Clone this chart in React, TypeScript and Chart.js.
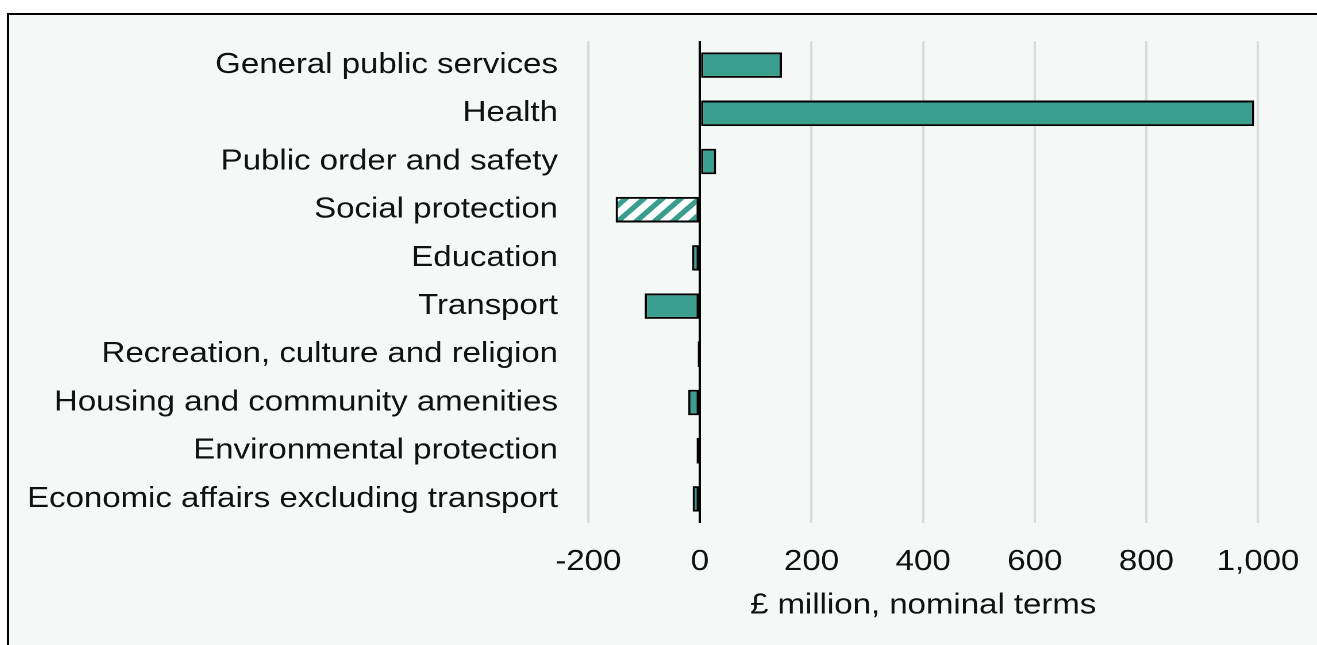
import React, { useEffect, useRef } from 'react';
import { Chart, registerables } from 'chart.js';

Chart.register(...registerables);

const categories = [
  'General public services',
  'Health',
  'Public order and safety',
  'Social protection',
  'Education',
  'Transport',
  'Recreation, culture and religion',
  'Housing and community amenities',
  'Environmental protection',
  'Economic affairs excluding transport',
];
const values = [147, 993, 29, -151, -14, -99, -4, -21, -6, -13];
const hatched = [false, false, false, true, false, false, false, false, false, false];
const xMin = -200;
const xMax = 1000;
const xStep = 200;
const axisTitle = '£ million, nominal terms';

const TEAL = '#3a9e8f';
const BG = '#f4f8f7';
const FONT = '"Liberation Sans", Arial, Helvetica, sans-serif';
const FONT_SIZE = 28.7;

// Horizontal stretch: logical canvas width drawn then displayed wider
const DISPLAY_W = 1308;
const DISPLAY_H = 630;
const LOGICAL_W = 1138;

function makeHatch(ctx: CanvasRenderingContext2D): CanvasPattern | string {
  const s = 32;
  const c = document.createElement('canvas');
  c.width = s;
  c.height = s;
  const g = c.getContext('2d');
  if (!g) return TEAL;
  g.fillStyle = '#ffffff';
  g.fillRect(0, 0, s, s);
  g.strokeStyle = TEAL;
  g.lineWidth = 10;
  g.lineCap = 'square';
  g.beginPath();
  for (let k = -1; k <= 1; k++) {
    g.moveTo(k * s - s, 2 * s);
    g.lineTo(k * s + 2 * s, -s);
  }
  g.stroke();
  const p = ctx.createPattern(c, 'repeat');
  if (!p) return TEAL;
  p.setTransform(new DOMMatrix().scale(0.5, 0.5));
  return p;
}

export default function App() {
  const ref = useRef<HTMLCanvasElement | null>(null);

  useEffect(() => {
    const canvas = ref.current;
    if (!canvas) return;
    const ctx = canvas.getContext('2d');
    if (!ctx) return;
    const hatch = makeHatch(ctx);

    const chart = new Chart(canvas, {
      type: 'bar',
      data: {
        labels: categories,
        datasets: [
          {
            data: values,
            backgroundColor: hatched.map((h) => (h ? hatch : TEAL)) as any,
            borderColor: '#000000',
            borderWidth: 2,
            borderSkipped: false,
            categoryPercentage: 1,
            barPercentage: 0.53,
          },
        ],
      },
      options: {
        indexAxis: 'y',
        responsive: false,
        animation: false,
        devicePixelRatio: 2,
        events: [],
        layout: { padding: { top: 26, right: 51.3, left: 0, bottom: 0 } },
        plugins: {
          legend: { display: false },
          tooltip: { enabled: false },
          title: { display: false },
        },
        scales: {
          x: {
            type: 'linear',
            min: xMin,
            max: xMax,
            border: { display: false },
            grid: {
              drawTicks: false,
              color: (c: any) => (c.tick && c.tick.value === 0 ? '#000000' : '#dadada'),
              lineWidth: 2,
            },
            ticks: {
              stepSize: xStep,
              padding: 22,
              color: '#111111',
              font: { family: FONT, size: FONT_SIZE },
              callback: (v: any) => Number(v).toLocaleString('en-US'),
            },
            title: {
              display: true,
              text: axisTitle,
              color: '#111111',
              font: { family: FONT, size: FONT_SIZE },
              padding: { top: 4, bottom: 22 },
            },
            afterFit: (s: any) => {
              s.height = 122;
              s.paddingLeft = 0;
              s.paddingRight = 0;
            },
          },
          y: {
            border: { display: false },
            grid: { display: false, drawTicks: false },
            ticks: {
              padding: 26.4,
              color: '#111111',
              font: { family: FONT, size: FONT_SIZE },
            },
            afterFit: (s: any) => {
              s.width = 504;
              s.paddingTop = 0;
              s.paddingBottom = 0;
            },
          },
        },
      },
    });
    return () => chart.destroy();
  }, []);

  return (
    <div
      style={{
        position: 'fixed',
        left: 7,
        top: 13,
        width: 1310,
        height: 632,
        boxSizing: 'border-box',
        borderTop: '2px solid #000',
        borderLeft: '2px solid #000',
        background: BG,
        overflow: 'hidden',
      }}
    >
      <canvas
        ref={ref}
        width={LOGICAL_W}
        height={DISPLAY_H}
        style={{ width: DISPLAY_W + 'px', height: DISPLAY_H + 'px', display: 'block' }}
      />
    </div>
  );
}
